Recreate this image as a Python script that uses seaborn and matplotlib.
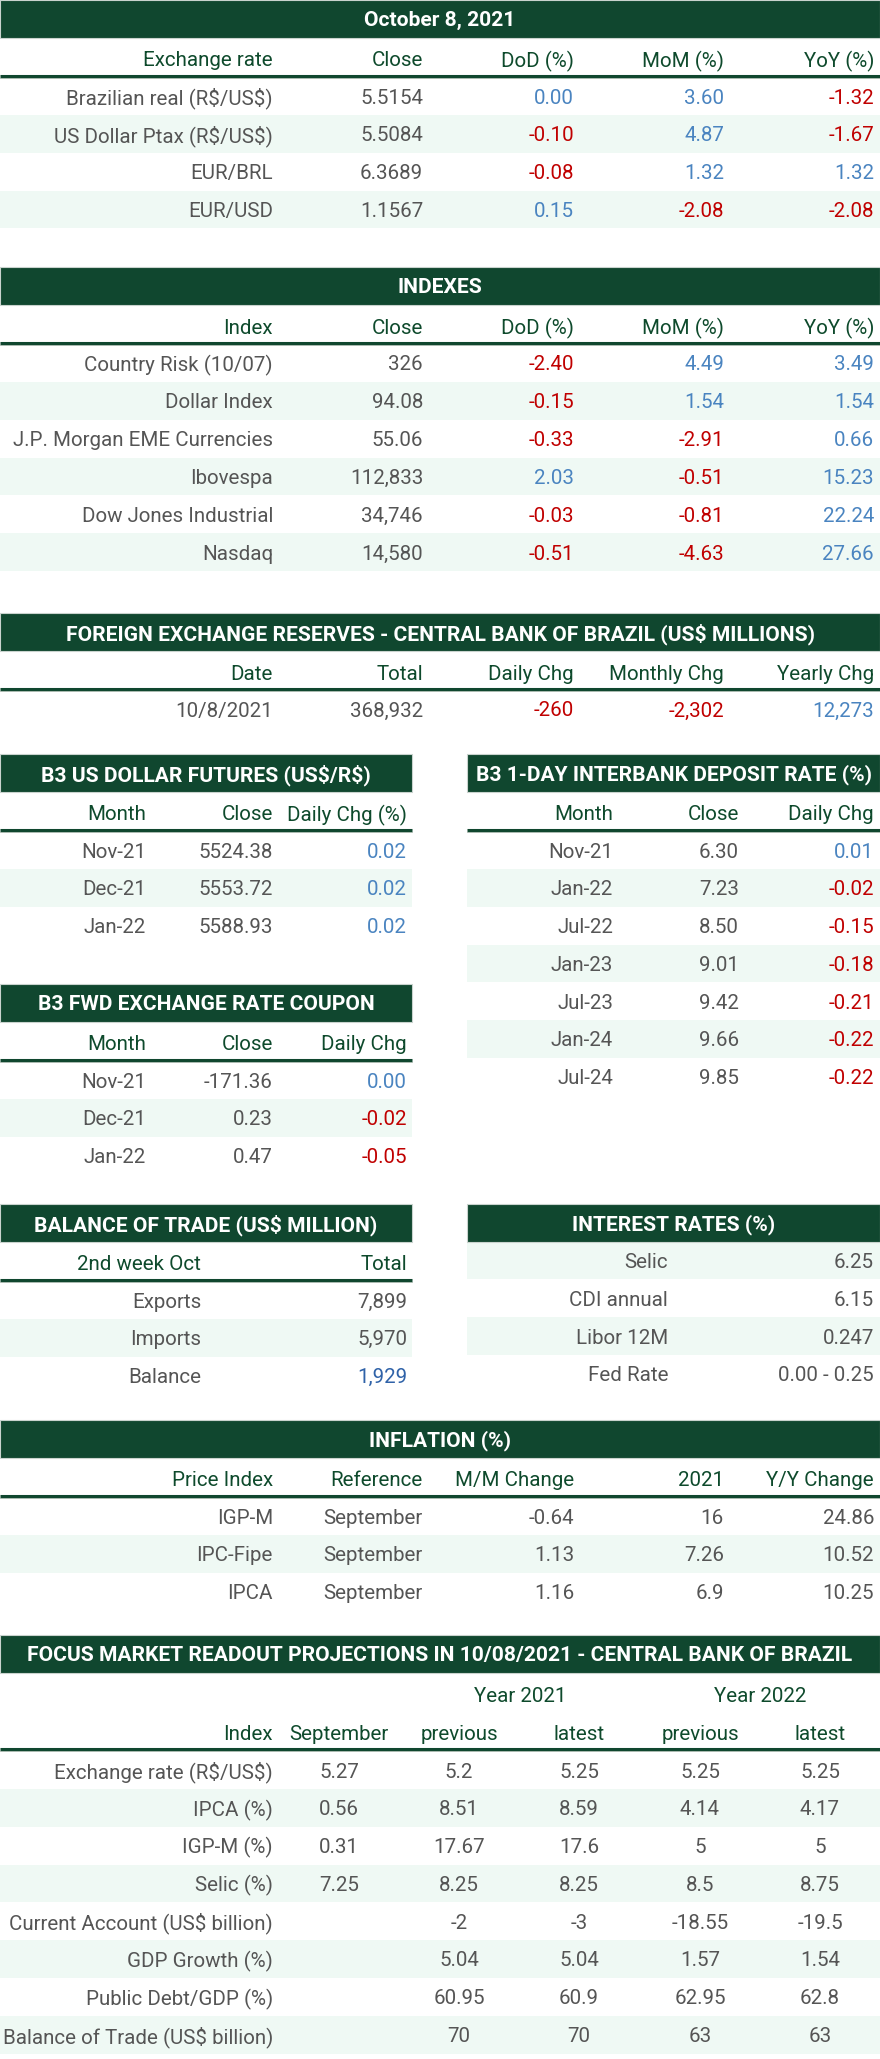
import seaborn as sns
import matplotlib.pyplot as plt
from matplotlib.patches import Rectangle

# ---- data ----
date_title = "October 8, 2021"
fx_header = ["Exchange rate", "Close", "DoD (%)", "MoM (%)", "YoY (%)"]
fx_names = ["Brazilian real (R$/US$)", "US Dollar Ptax (R$/US$)", "EUR/BRL", "EUR/USD"]
fx_close = ["5.5154", "5.5084", "6.3689", "1.1567"]
fx_dod = ["0.00", "-0.10", "-0.08", "0.15"]
fx_mom = ["3.60", "4.87", "1.32", "-2.08"]
fx_yoy = ["-1.32", "-1.67", "1.32", "-2.08"]

idx_header = ["Index", "Close", "DoD (%)", "MoM (%)", "YoY (%)"]
idx_names = ["Country Risk (10/07)", "Dollar Index", "J.P. Morgan EME Currencies",
             "Ibovespa", "Dow Jones Industrial", "Nasdaq"]
idx_close = ["326", "94.08", "55.06", "112,833", "34,746", "14,580"]
idx_dod = ["-2.40", "-0.15", "-0.33", "2.03", "-0.03", "-0.51"]
idx_mom = ["4.49", "1.54", "-2.91", "-0.51", "-0.81", "-4.63"]
idx_yoy = ["3.49", "1.54", "0.66", "15.23", "22.24", "27.66"]

res_title = "FOREIGN EXCHANGE RESERVES - CENTRAL BANK OF BRAZIL (US$ MILLIONS)"
res_header = ["Date", "Total", "Daily Chg", "Monthly Chg", "Yearly Chg"]
res_date = ["10/8/2021"]
res_total = ["368,932"]
res_daily = ["-260"]
res_monthly = ["-2,302"]
res_yearly = ["12,273"]

fut_title = "B3 US DOLLAR FUTURES (US$/R$)"
fut_header = ["Month", "Close", "Daily Chg (%)"]
fut_month = ["Nov-21", "Dec-21", "Jan-22"]
fut_close = ["5524.38", "5553.72", "5588.93"]
fut_chg = ["0.02", "0.02", "0.02"]

di_title = "B3 1-DAY INTERBANK DEPOSIT RATE (%)"
di_header = ["Month", "Close", "Daily Chg"]
di_month = ["Nov-21", "Jan-22", "Jul-22", "Jan-23", "Jul-23", "Jan-24", "Jul-24"]
di_close = ["6.30", "7.23", "8.50", "9.01", "9.42", "9.66", "9.85"]
di_chg = ["0.01", "-0.02", "-0.15", "-0.18", "-0.21", "-0.22", "-0.22"]

cp_title = "B3 FWD EXCHANGE RATE COUPON"
cp_header = ["Month", "Close", "Daily Chg"]
cp_month = ["Nov-21", "Dec-21", "Jan-22"]
cp_close = ["-171.36", "0.23", "0.47"]
cp_chg = ["0.00", "-0.02", "-0.05"]

bt_title = "BALANCE OF TRADE (US$ MILLION)"
bt_header = ["2nd week Oct", "Total"]
bt_item = ["Exports", "Imports", "Balance"]
bt_total = ["7,899", "5,970", "1,929"]

ir_title = "INTEREST RATES (%)"
ir_name = ["Selic", "CDI annual", "Libor 12M", "Fed Rate"]
ir_value = ["6.25", "6.15", "0.247", "0.00 - 0.25"]

inf_title = "INFLATION (%)"
inf_header = ["Price Index", "Reference", "M/M Change", "2021", "Y/Y Change"]
inf_name = ["IGP-M", "IPC-Fipe", "IPCA"]
inf_ref = ["September", "September", "September"]
inf_mm = ["-0.64", "1.13", "1.16"]
inf_year = ["16", "7.26", "6.9"]
inf_yy = ["24.86", "10.52", "10.25"]

fo_title = "FOCUS MARKET READOUT PROJECTIONS IN 10/08/2021 - CENTRAL BANK OF BRAZIL"
fo_years = ["Year 2021", "Year 2022"]
fo_header = ["Index", "September", "previous", "latest", "previous", "latest"]
fo_name = ["Exchange rate (R$/US$)", "IPCA (%)", "IGP-M (%)", "Selic (%)",
           "Current Account (US$ billion)", "GDP Growth (%)", "Public Debt/GDP (%)",
           "Balance of Trade (US$ billion)"]
fo_sep = ["5.27", "0.56", "0.31", "7.25", "", "", "", ""]
fo_prev21 = ["5.2", "8.51", "17.67", "8.25", "-2", "5.04", "60.95", "70"]
fo_last21 = ["5.25", "8.59", "17.6", "8.25", "-3", "5.04", "60.9", "70"]
fo_prev22 = ["5.25", "4.14", "5", "8.5", "-18.55", "1.57", "62.95", "63"]
fo_last22 = ["5.25", "4.17", "5", "8.75", "-19.5", "1.54", "62.8", "63"]

# ---- style ----
sns.set_theme(style="white")
plt.rcParams['font.family'] = ['Roboto', 'DejaVu Sans']

GREEN = "#10472f"
HEAD = "#0e4a2c"
TEXT = "#555555"
BLUE = "#4a84c0"
RED = "#c00000"
SHADE = "#eff9f4"
FS = 14.8
TFS = 15.1
BAR_H = 37.5
PITCH = 37.8

W, H = 880, 2059
fig = plt.figure(figsize=(W / 100, H / 100), dpi=100)
ax = fig.add_axes([0, 0, 1, 1])
ax.set_xlim(0, W)
ax.set_ylim(H, 0)
ax.axis("off")
renderer = fig.canvas.get_renderer()


def txt(x, y, s, **kw):
    return ax.text(x, y, s, fontsize=FS, va="center_baseline", parse_math=False,
                   zorder=3, **kw)


def bar(x0, x1, top, title):
    ax.add_patch(Rectangle((x0, top), x1 - x0, BAR_H, facecolor=GREEN,
                           edgecolor="#c9d3ce", lw=0.8, zorder=2))
    t = ax.text((x0 + x1) / 2, top + BAR_H / 2, title, color="white", fontsize=TFS,
                fontweight="bold", ha="center", va="center_baseline",
                parse_math=False, zorder=3)
    # shrink long titles to the bar width
    w = t.get_window_extent(renderer).width
    if w > (x1 - x0) - 6:
        t.set_fontsize(TFS * ((x1 - x0) - 6) / w)


def header(x0, x1, y, labels, xs, ha):
    for lab, x, h in zip(labels, xs, ha):
        txt(x, y, lab, color=HEAD, ha=h)
    ax.plot([x0, x1], [y + 17, y + 17], color=GREEN, lw=2.2,
            solid_capstyle="butt", zorder=3)
    ax.plot([x0, x1], [y + 18.6, y + 18.6], color="#a8b8ae", lw=0.7, zorder=3)


def body(x0, x1, y0, columns, xs, ha, signed=(), shade_start=1, blue_cells=()):
    for i in range(len(columns[0])):
        y = y0 + i * PITCH
        if (i - shade_start) % 2 == 0:
            ax.add_patch(Rectangle((x0, y - PITCH / 2), x1 - x0, PITCH,
                                   facecolor=SHADE, edgecolor="none", zorder=0))
        for j, col in enumerate(columns):
            s = col[i]
            c = TEXT
            if j in signed and s:
                c = RED if s.startswith("-") else BLUE
            if (i, j) in blue_cells:
                c = "#2f62a8"
            txt(xs[j], y, s, color=c, ha=ha[j])


full_x = [273, 423, 574, 724, 874]
full_ha = ["right"] * 5

# table 1: exchange rate
top = 0
bar(0, W, top, date_title)
header(0, W, top + 59, fx_header, full_x, full_ha)
body(0, W, top + 96, [fx_names, fx_close, fx_dod, fx_mom, fx_yoy], full_x, full_ha,
     signed=(2, 3, 4))

# table 2: indexes
top = 267
bar(0, W, top, "INDEXES")
header(0, W, top + 59, idx_header, full_x, full_ha)
body(0, W, top + 96, [idx_names, idx_close, idx_dod, idx_mom, idx_yoy], full_x, full_ha,
     signed=(2, 3, 4))

# table 3: reserves
top = 613
bar(0, W, top, res_title)
header(0, W, top + 59, res_header, full_x, full_ha)
body(0, W, top + 96, [res_date, res_total, res_daily, res_monthly, res_yearly],
     full_x, full_ha, signed=(2, 3, 4))

# left / right half tables
LX0, LX1 = 0, 412
RX0, RX1 = 467, W
left_x = [146, 273, 407]
right_x = [613, 739, 874]
three_ha = ["right"] * 3

top = 754
bar(LX0, LX1, top, fut_title)
header(LX0, LX1, top + 59, fut_header, left_x, three_ha)
body(LX0, LX1, top + 96, [fut_month, fut_close, fut_chg], left_x, three_ha, signed=(2,))

bar(RX0, RX1, top, di_title)
header(RX0, RX1, top + 59, di_header, right_x, three_ha)
body(RX0, RX1, top + 96, [di_month, di_close, di_chg], right_x, three_ha, signed=(2,))

top = 984
bar(LX0, LX1, top, cp_title)
header(LX0, LX1, top + 59, cp_header, left_x, three_ha)
body(LX0, LX1, top + 96, [cp_month, cp_close, cp_chg], left_x, three_ha, signed=(2,))

top = 1204
bt_x = [201, 407]
bar(LX0, LX1, top, bt_title)
header(LX0, LX1, top + 59, bt_header, bt_x, ["right", "right"])
body(LX0, LX1, top + 96, [bt_item, bt_total], bt_x, ["right", "right"],
     blue_cells=((2, 1),))

ir_x = [668, 874]
bar(RX0, RX1, top, ir_title)
body(RX0, RX1, top + BAR_H + PITCH / 2, [ir_name, ir_value], ir_x, ["right", "right"],
     shade_start=0)

# inflation
top = 1420
bar(0, W, top, inf_title)
header(0, W, top + 59, inf_header, full_x, full_ha)
body(0, W, top + 96, [inf_name, inf_ref, inf_mm, inf_year, inf_yy], full_x, full_ha)

# focus
top = 1635
fo_x = [273, 339, 459, 579, 700, 820]
fo_ha = ["right"] + ["center"] * 5
bar(0, W, top, fo_title)
for lab, x in zip(fo_years, [520, 760]):
    txt(x, top + 59, lab, color=HEAD, ha="center")
header(0, W, top + 97, fo_header, fo_x, fo_ha)
body(0, W, top + 135, [fo_name, fo_sep, fo_prev21, fo_last21, fo_prev22, fo_last22],
     fo_x, fo_ha)

fig.savefig("out.png", dpi=100, facecolor="white")
